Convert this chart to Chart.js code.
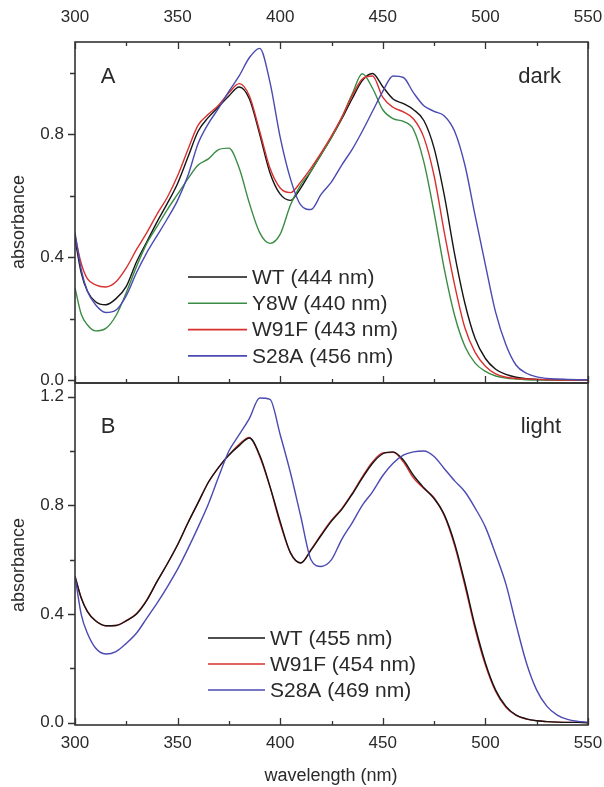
<!DOCTYPE html>
<html><head><meta charset="utf-8">
<script src="https://cdn.jsdelivr.net/npm/chart.js@4.4.0/dist/chart.umd.min.js"></script>
<style>
html,body{margin:0;padding:0;background:#fff;width:604px;height:787px;overflow:hidden}
#c1{position:absolute;left:0;top:0}
#c2{position:absolute;left:0;top:360px}
</style></head><body>
<canvas id="c1" width="604" height="400"></canvas>
<canvas id="c2" width="604" height="427"></canvas>
<script>
// ---------- data ----------
const wavelength = [300,303,306,310,315,320,325,330,335,340,345,350,355,360,365,370,375,380,385,390,395,400,405,410,415,420,425,430,435,440,445,450,455,460,465,470,475,480,485,490,495,500,505,510,515,520,525,530,535,540,545,550];

// panel A (dark)
const darkWT   = [0.46,0.35,0.29,0.255,0.245,0.265,0.305,0.385,0.45,0.515,0.575,0.64,0.725,0.81,0.855,0.89,0.925,0.954,0.915,0.80,0.675,0.605,0.585,0.625,0.68,0.735,0.79,0.85,0.915,0.975,0.998,0.955,0.915,0.90,0.88,0.845,0.755,0.60,0.41,0.25,0.135,0.07,0.035,0.018,0.009,0.004,0.002,0.001,0,0,0,0];
const darkY8W  = [0.30,0.215,0.18,0.16,0.168,0.21,0.285,0.37,0.445,0.50,0.555,0.605,0.655,0.70,0.72,0.75,0.755,0.69,0.575,0.48,0.445,0.475,0.57,0.635,0.68,0.735,0.79,0.855,0.93,0.997,0.95,0.88,0.851,0.842,0.815,0.71,0.545,0.36,0.21,0.11,0.055,0.028,0.013,0.006,0.003,0.001,0,0,0,0,0,0];
const darkW91F = [0.47,0.38,0.33,0.31,0.303,0.32,0.365,0.425,0.48,0.54,0.595,0.665,0.75,0.83,0.865,0.895,0.935,0.965,0.925,0.81,0.69,0.625,0.61,0.645,0.69,0.74,0.795,0.855,0.925,0.98,0.99,0.92,0.888,0.873,0.85,0.79,0.665,0.48,0.31,0.17,0.09,0.045,0.02,0.009,0.005,0.003,0.002,0.001,0,0,0,0];
const darkS28A = [0.48,0.36,0.29,0.245,0.22,0.228,0.275,0.35,0.415,0.47,0.525,0.585,0.665,0.77,0.835,0.885,0.94,0.99,1.05,1.08,0.97,0.79,0.655,0.57,0.555,0.605,0.645,0.70,0.75,0.81,0.875,0.94,0.99,0.985,0.935,0.893,0.875,0.86,0.81,0.70,0.535,0.375,0.22,0.115,0.048,0.022,0.01,0.005,0.003,0.002,0.001,0];

// panel B (light)
const lightWT   = [0.538,0.46,0.41,0.375,0.357,0.358,0.375,0.40,0.45,0.52,0.585,0.655,0.735,0.81,0.885,0.94,0.985,1.02,1.048,0.985,0.87,0.74,0.625,0.588,0.635,0.69,0.742,0.785,0.84,0.90,0.955,0.99,0.997,0.967,0.91,0.865,0.825,0.765,0.66,0.515,0.355,0.22,0.12,0.06,0.028,0.014,0.007,0.004,0.002,0.001,0.001,0];
const lightW91F = [0.54,0.46,0.41,0.375,0.357,0.358,0.376,0.402,0.452,0.52,0.585,0.655,0.735,0.81,0.885,0.94,0.985,1.025,1.05,0.98,0.868,0.733,0.625,0.588,0.637,0.693,0.745,0.788,0.843,0.905,0.96,0.993,0.995,0.96,0.90,0.862,0.828,0.762,0.652,0.505,0.345,0.212,0.115,0.057,0.027,0.013,0.007,0.004,0.002,0.001,0.001,0];
const lightS28A = [0.54,0.40,0.33,0.275,0.253,0.262,0.292,0.33,0.385,0.44,0.50,0.565,0.64,0.72,0.805,0.905,1.0,1.06,1.12,1.195,1.19,1.06,0.92,0.76,0.60,0.575,0.60,0.675,0.735,0.80,0.85,0.91,0.955,0.985,0.997,1.0,0.98,0.935,0.89,0.85,0.79,0.72,0.62,0.51,0.36,0.22,0.12,0.06,0.028,0.012,0.005,0.002];

// ticks and labels
const xTicks = [300,350,400,450,500,550];
const xMinorTicks = [325,375,425,475,525];
const yTicksDark = [0,0.4,0.8];
const yMinorDark = [0.2,0.6,1.0];
const yTicksLight = [0,0.4,0.8,1.2];
const yMinorLight = [0.2,0.6,1.0];
const darkLegend = ['WT (444 nm)','Y8W (440 nm)','W91F (443 nm)','S28A (456 nm)'];
const lightLegend = ['WT (455 nm)','W91F (454 nm)','S28A (469 nm)'];

// ---------- styling ----------
const FONT = '"Liberation Sans", Arial, Helvetica, sans-serif';
const TXT = '#2a2a2a';
const AXC = '#333333';
const C_BLACK = '#151515', C_GREEN = '#3a8c45', C_RED = '#d8302e', C_BLUE = '#4a4ab2';

function pts(arr){ return wavelength.map((x,i)=>({x:x, y:arr[i]})); }
function ds(label, arr, color, order){
  return {label:label, data:pts(arr), borderColor:color, backgroundColor:color, borderWidth:1.4,
          pointRadius:0, cubicInterpolationMode:'monotone', fill:false, order:order};
}

function decorPlugin(cfg){
  return {
    id:'decor'+cfg.name,
    afterDraw(chart){
      const ctx = chart.ctx, a = chart.chartArea;
      const xs = chart.scales.x, ys = chart.scales.y;
      ctx.save();
      ctx.strokeStyle = AXC; ctx.lineWidth = 1.6;
      ctx.strokeRect(a.left, a.top, a.right - a.left, a.bottom - a.top);
      ctx.lineWidth = 1.3;
      ctx.beginPath();
      const all = xTicks.map(v=>[v,7]).concat(xMinorTicks.map(v=>[v,4]));
      all.forEach(([v,len])=>{
        const px = Math.round(xs.getPixelForValue(v))+0.5;
        if (cfg.topTicks){ ctx.moveTo(px, a.top); ctx.lineTo(px, a.top+len); }
        ctx.moveTo(px, a.bottom); ctx.lineTo(px, a.bottom-len);
      });
      cfg.yMajor.forEach(v=>{ const py = Math.round(ys.getPixelForValue(v))+0.5; ctx.moveTo(a.left, py); ctx.lineTo(a.left-7, py); });
      cfg.yMinor.forEach(v=>{ const py = Math.round(ys.getPixelForValue(v))+0.5; ctx.moveTo(a.left, py); ctx.lineTo(a.left-5, py); });
      ctx.stroke();

      // legend
      ctx.font = '21px ' + FONT; ctx.textBaseline = 'middle'; ctx.textAlign = 'left';
      cfg.legend.forEach((it,i)=>{
        const y = cfg.legY + i*cfg.legStep;
        ctx.strokeStyle = it.color; ctx.lineWidth = 1.6;
        ctx.beginPath(); ctx.moveTo(cfg.legX1, y); ctx.lineTo(cfg.legX2, y); ctx.stroke();
        ctx.fillStyle = TXT; ctx.fillText(it.text, cfg.legText, y+1);
      });

      // panel labels
      ctx.fillStyle = TXT; ctx.font = '22px ' + FONT;
      ctx.textAlign = 'center'; ctx.fillText(cfg.letter, 108, cfg.labY);
      ctx.textAlign = 'right'; ctx.fillText(cfg.cond, 561, cfg.labY);

      // axis titles
      ctx.font = '18px ' + FONT; ctx.textAlign = 'center';
      ctx.save(); ctx.translate(19, cfg.yTitleY); ctx.rotate(-Math.PI/2);
      ctx.fillText('absorbance', 0, 0); ctx.restore();
      if (cfg.xTitle){ ctx.fillText(cfg.xTitle, 331, cfg.xTitleY); }
      ctx.restore();
    }
  };
}

function noPad(s){ s.paddingLeft = 0; s.paddingRight = 0; s.paddingTop = 0; s.paddingBottom = 0; }
function xScale(pos, h, pad){
  return {type:'linear', position:pos, min:300, max:550,
    afterBuildTicks: s => { s.ticks = xTicks.map(v=>({value:v})); },
    afterFit: s => { s.height = h; noPad(s); },
    ticks:{font:{family:FONT,size:17}, color:TXT, padding:pad, maxRotation:0, autoSkip:false, callback:v=>String(v)},
    grid:{display:false, drawTicks:false}, border:{display:false}};
}
function yScale(min, max, ticks){
  return {type:'linear', position:'left', min:min, max:max,
    afterBuildTicks: s => { s.ticks = ticks.map(v=>({value:v})); },
    afterFit: s => { s.width = 75; noPad(s); },
    ticks:{font:{family:FONT,size:17}, color:TXT, padding:11, autoSkip:false, callback:v=>Number(v).toFixed(1)},
    grid:{display:false, drawTicks:false}, border:{display:false}};
}

new Chart(document.getElementById('c1'), {
  type:'line',
  data:{datasets:[
    ds('WT', darkWT, C_BLACK, 4),
    ds('Y8W', darkY8W, C_GREEN, 3),
    ds('W91F', darkW91F, C_RED, 2),
    ds('S28A', darkS28A, C_BLUE, 1)
  ]},
  options:{responsive:false, animation:false, devicePixelRatio:1,
    layout:{padding:{left:0,right:16,top:0,bottom:17}},
    plugins:{legend:{display:false}, tooltip:{enabled:false}},
    scales:{x:xScale('top',42,14), y:yScale(-0.0098,1.1006,yTicksDark)}},
  plugins:[decorPlugin({name:'A', topTicks:true, yMajor:yTicksDark, yMinor:yMinorDark,
    legend:[{text:darkLegend[0],color:C_BLACK},{text:darkLegend[1],color:C_GREEN},{text:darkLegend[2],color:C_RED},{text:darkLegend[3],color:C_BLUE}],
    legY:277, legStep:26.3, legX1:188, legX2:247, legText:252,
    letter:'A', cond:'dark', labY:77, yTitleY:222})]
});

new Chart(document.getElementById('c2'), {
  type:'line',
  data:{datasets:[
    ds('W91F', lightW91F, C_RED, 3),
    ds('WT', lightWT, C_BLACK, 2),
    ds('S28A', lightS28A, C_BLUE, 1)
  ]},
  options:{responsive:false, animation:false, devicePixelRatio:1,
    layout:{padding:{left:0,right:16,top:23,bottom:0}},
    plugins:{legend:{display:false}, tooltip:{enabled:false}},
    scales:{x:xScale('bottom',62,8), y:yScale(-0.0085,1.2504,yTicksLight)}},
  plugins:[decorPlugin({name:'B', topTicks:false, yMajor:yTicksLight, yMinor:yMinorLight,
    legend:[{text:lightLegend[0],color:C_BLACK},{text:lightLegend[1],color:C_RED},{text:lightLegend[2],color:C_BLUE}],
    legY:278, legStep:26, legX1:208, legX2:265, legText:270,
    letter:'B', cond:'light', labY:67, yTitleY:205, xTitle:'wavelength (nm)', xTitleY:416})]
});
</script></body></html>
